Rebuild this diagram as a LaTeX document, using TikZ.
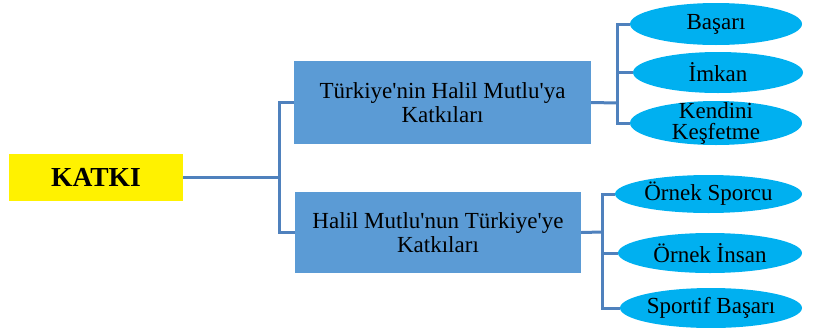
\documentclass[tikz,border=0pt]{standalone}
\usepackage{fontspec}
\setmainfont{Liberation Serif}[Ligatures=TeXOff]
\usetikzlibrary{shapes.geometric}
\definecolor{linec}{RGB}{79,129,189}
\definecolor{boxc}{RGB}{91,155,213}
\definecolor{ovalc}{RGB}{0,176,240}
\tikzset{
  conn/.style={draw=linec, line width=3pt},
  bluebox/.style={rectangle, fill=boxc, inner sep=0pt, align=center, font=\fontsize{23}{24.5}\selectfont},
  oval/.style={ellipse, fill=ovalc, inner sep=0pt},
  ovaltext/.style={inner sep=0pt, align=center, font=\fontsize{23}{21}\selectfont}
}
\begin{document}
\begin{tikzpicture}[x=1pt,y=-1pt]
\useasboundingbox (0,0) rectangle (827,327);
\node[rectangle, fill=yellow, minimum width=174pt, minimum height=47pt, inner sep=0pt, font=\fontsize{27.5}{29}\selectfont\bfseries] (katki) at (96,177) {KATKI};
\node[bluebox, minimum width=297pt, minimum height=83pt] (t1) at (442.5,102.5) {Türkiye'nin Halil Mutlu'ya\\Katkıları};
\node[bluebox, minimum width=286pt, minimum height=81pt] (t2) at (438,232.5) {Halil Mutlu'nun Türkiye'ye\\Katkıları};
\node[oval, minimum width=172pt, minimum height=42pt] (e1) at (716,24) {};
\node[ovaltext] (e1t) at (e1) {Başarı};
\node[oval, minimum width=170pt, minimum height=41pt] (e2) at (718,72.5) {};
\node[ovaltext] (e2t) at (e2) {İmkan};
\node[oval, minimum width=172pt, minimum height=44pt] (e3) at (716,123) {};
\node[ovaltext] (e3t) at (e3) {Kendini\\Keşfetme};
\node[oval, minimum width=187pt, minimum height=38pt] (f1) at (708.5,194) {};
\node[ovaltext] (f1t) at (f1) {Örnek Sporcu};
\node[oval, minimum width=184pt, minimum height=40pt] (f2) at (710,253) {};
\node[ovaltext] (f2t) at (f2) {Örnek İnsan};
\node[oval, minimum width=182pt, minimum height=40pt] (f3) at (711,308) {};
\node[ovaltext] (f3t) at (f3) {Sportif Başarı};
\coordinate (j1) at (279,177);
\coordinate (j2) at (617,103);
\coordinate (j3) at (602,232);
\draw[conn] (katki.east) -- (j1);
\draw[conn] (t1.west) -- (t1.west -| j1) -- (t2.west -| j1) -- (t2.west);
\draw[conn] (t1.east) -- (j2);
\draw[conn] (e1.west) -- (e1.west -| j2) -- (e3.west -| j2) -- (e3.west);
\draw[conn] (e2.west) -- (e2.west -| j2);
\draw[conn] (t2.east) -- (j3);
\draw[conn] (f1.west) -- (f1.west -| j3) -- (f3.west -| j3) -- (f3.west);
\draw[conn] (f2.west) -- (f2.west -| j3);
\end{tikzpicture}
\end{document}
